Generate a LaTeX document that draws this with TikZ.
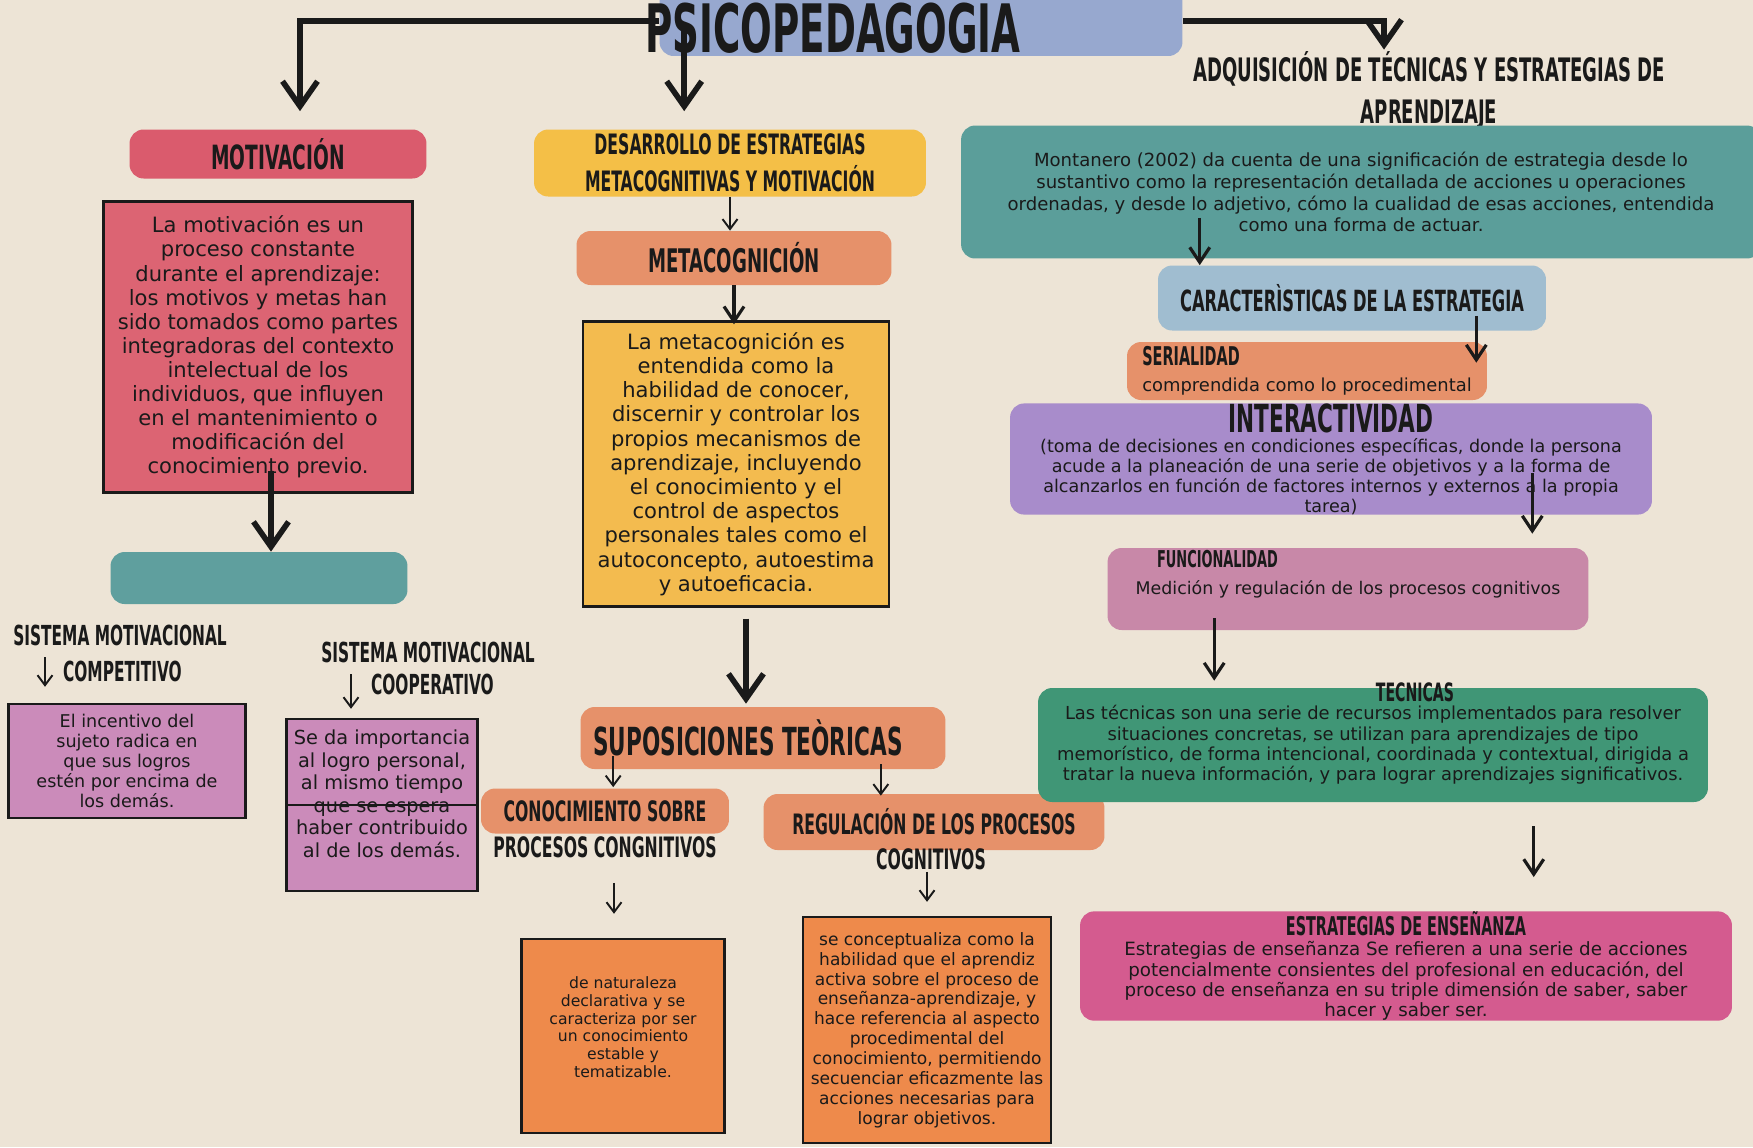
\documentclass[tikz,border=0pt]{standalone}
\usepackage{fontspec}
\setmainfont{DejaVu Sans}
\newfontfamily\headfont{DejaVu Sans Condensed Bold}[FakeStretch=0.62]
\usetikzlibrary{arrows.meta, calc}
\definecolor{paper}{HTML}{EDE4D6}
\definecolor{titleblue}{HTML}{97A8CF}
\definecolor{rosered}{HTML}{DA5B6D}
\definecolor{roseredbox}{HTML}{DC6473}
\definecolor{tealdk}{HTML}{5F9F9E}
\definecolor{mauve}{HTML}{CB8BBA}
\definecolor{mustard}{HTML}{F4BF47}
\definecolor{mustardbox}{HTML}{F3BB4F}
\definecolor{salmon}{HTML}{E6916A}
\definecolor{tangerine}{HTML}{EE8A4B}
\definecolor{seateal}{HTML}{5B9E9A}
\definecolor{skyblue}{HTML}{A0BDD0}
\definecolor{lilac}{HTML}{A88CCB}
\definecolor{orchid}{HTML}{C888A8}
\definecolor{jade}{HTML}{409676}
\definecolor{fuchsia}{HTML}{D45B8F}
\definecolor{ink}{HTML}{1A1A1A}

\begin{document}
\begin{tikzpicture}[x=0.02cm, y=-0.02cm, text=ink,
  bigarrow/.style={-{Straight Barb[length=5mm, width=7mm]}, line width=3.2pt, ink},
  midarrow/.style={-{Straight Barb[length=3mm, width=4mm]}, line width=1.8pt, ink},
  smallarrow/.style={-{Straight Barb[length=2mm, width=3mm]}, line width=1.1pt, ink},
  pill/.style={fill=#1, rounded corners=8pt, inner sep=0pt, align=center},
  card/.style={fill=#1, draw=ink, line width=1.4pt, inner sep=0pt, align=center},
  head/.style 2 args={font=\headfont\fontsize{#1}{#2}\selectfont, inner sep=1pt, align=center},
  body/.style 2 args={font=\fontsize{#1}{#2}\selectfont}]

% Background
\useasboundingbox (0,0) rectangle (1753,1147);
\fill[paper] (0,0) rectangle (1753,1147);

% Title
\node[pill=titleblue, minimum width=10.46cm, minimum height=1.4cm] (titlebox) at (921,21) {};
\node[head={38}{40}] (title) at (833,28) {PSICOPEDAGOGIA};

% =========== MOTIVACION ===========
\node[pill=rosered, minimum width=5.94cm, minimum height=0.98cm, head={19}{22}] (motiv) at (278,154) {MOTIVACIÓN};
\node[card=roseredbox, minimum width=6.18cm, minimum height=5.82cm, body={12}{13.7}] (motivbox) at (258,347)
  {La motivación es un\\ proceso constante\\ durante el aprendizaje:\\ los motivos y metas han\\
   sido tomados como partes\\ integradoras del contexto\\ intelectual de los\\ individuos, que influyen\\
   en el mantenimiento o\\ modificación del\\ conocimiento previo.};
\node[pill=tealdk, minimum width=5.94cm, minimum height=1.04cm] (teal) at (259,578) {};

\node[head={15.7}{18}] (smcomp) at (120,635) {SISTEMA MOTIVACIONAL};
\node[head={15.7}{18}, anchor=west] (compt) at (61,671) {COMPETITIVO};
\node[card=mauve, minimum width=4.74cm, minimum height=2.28cm, body={10}{11.4}] (compbox) at (127,761)
  {El incentivo del\\ sujeto radica en\\ que sus logros\\ estén por encima de\\ los demás.};

\node[head={15.7}{18}] (smcoop) at (428,652) {SISTEMA MOTIVACIONAL};
\node[head={15.7}{18}, anchor=west] (coopt) at (369,684) {COOPERATIVO};
\node[card=mauve, minimum width=3.82cm, minimum height=3.44cm, body={11}{12.8}] (coopbox) at (382,805)
  {Se da importancia\\ al logro personal,\\ al mismo tiempo\\ que se espera\\ haber contribuido\\ al de los demás.\\ \mbox{}};
\draw[ink, line width=1.2pt] (coopbox.west) -- (coopbox.east);

% =========== METACOGNICION ===========
\node[pill=mustard, minimum width=7.84cm, minimum height=1.34cm, head={16}{21}] (desarr) at (730,163)
  {DESARROLLO DE ESTRATEGIAS\\ METACOGNITIVAS Y MOTIVACIÓN};
\node[pill=salmon, minimum width=6.3cm, minimum height=1.08cm, head={18.5}{22}] (metacog) at (734,258) {METACOGNICIÓN};
\node[card=mustardbox, minimum width=6.12cm, minimum height=5.7cm, body={12}{13.8}] (metabox) at (736,464)
  {La metacognición es\\ entendida como la\\ habilidad de conocer,\\ discernir y controlar los\\
   propios mecanismos de\\ aprendizaje, incluyendo\\ el conocimiento y el\\ control de aspectos\\
   personales tales como el\\ autoconcepto, autoestima\\ y autoeficacia.};

\node[pill=salmon, minimum width=7.3cm, minimum height=1.24cm, head={22}{26}] (supos) at (763,738) {SUPOSICIONES TEÒRICAS\hspace*{0.6cm}};
\node[pill=salmon, minimum width=4.96cm, minimum height=0.9cm, head={16}{19}] (conoc) at (605,811) {CONOCIMIENTO SOBRE};
\node[head={16}{19}] (conoc2) at (605,847) {PROCESOS CONGNITIVOS};
\node[pill=salmon, minimum width=6.82cm, minimum height=1.12cm, head={16}{19}] (regul) at (934,822) {REGULACIÓN DE LOS PROCESOS};
\node[head={16}{19}] (regul2) at (931,859) {COGNITIVOS};

\node[card=tangerine, minimum width=4.06cm, minimum height=3.88cm, body={8.9}{10.2}] (naturbox) at (623,1036)
  {de naturaleza\\ declarativa y se\\ caracteriza por ser\\ un conocimiento\\ estable y\\ tematizable.\\ \mbox{}};
\node[card=tangerine, minimum width=4.96cm, minimum height=4.52cm, body={9.7}{11.3}] (regbox) at (927,1030)
  {se conceptualiza como la\\ habilidad que el aprendiz\\ activa sobre el proceso de\\ enseñanza-aprendizaje, y\\
   hace referencia al aspecto\\ procedimental del\\ conocimiento, permitiendo\\ secuenciar eficazmente las\\
   acciones necesarias para\\ lograr objetivos.};

% =========== ESTRATEGIAS ===========
\node[head={18.4}{24}] (adq) at (1429,91) {ADQUISICIÓN DE TÉCNICAS Y ESTRATEGIAS DE\\ APRENDIZAJE};
\node[pill=seateal, minimum width=16cm, minimum height=2.66cm, body={10.3}{12.4}] (montanero) at (1361,192)
  {Montanero (2002) da cuenta de una significación de estrategia desde lo\\
   sustantivo como la representación detallada de acciones u operaciones\\
   ordenadas, y desde lo adjetivo, cómo la cualidad de esas acciones, entendida\\
   como una forma de actuar.};
\node[pill=skyblue, minimum width=7.76cm, minimum height=1.3cm, head={16.6}{19}] (caract) at (1352,298) {CARACTERÌSTICAS DE LA ESTRATEGIA};
\node[pill=salmon, minimum width=7.2cm, minimum height=1.16cm, align=left, body={10.2}{14.8}] (serial) at (1307,371)
  {{\headfont\fontsize{14.7}{16}\selectfont SERIALIDAD}\\ comprendida como lo procedimental};
\node[pill=lilac, minimum width=12.84cm, minimum height=2.18cm, body={10}{11.4}] (interact) at (1331,459)
  {{\headfont\fontsize{22}{24}\selectfont INTERACTIVIDAD}\\
   (toma de decisiones en condiciones específicas, donde la persona\\
   acude a la planeación de una serie de objetivos y a la forma de\\
   alcanzarlos en función de factores internos y externos a la propia\\ tarea)};
\node[pill=orchid, minimum width=9.62cm, minimum height=1.64cm, body={9.9}{13}] (funcional) at (1348,589)
  {Medición y regulación de los procesos cognitivos};
\node[head={13.2}{16}, anchor=west] (funct) at (1155,559) {FUNCIONALIDAD};
\node[pill=jade, minimum width=13.4cm, minimum height=2.28cm, body={10.2}{11.6}] (tecnicas) at (1373,745)
  {Las técnicas son una serie de recursos implementados para resolver\\
   situaciones concretas, se utilizan para aprendizajes de tipo\\
   memorístico, de forma intencional, coordinada y contextual, dirigida a\\
   tratar la nueva información, y para lograr aprendizajes significativos.};
\node[head={14.4}{16}] (tect) at (1415,692) {TECNICAS};
\node[pill=fuchsia, minimum width=13.04cm, minimum height=2.16cm, body={10.4}{11.6}] (estrateg) at (1406,966)
  {{\headfont\fontsize{14.7}{16}\selectfont ESTRATEGIAS DE ENSEÑANZA}\\
   Estrategias de enseñanza Se refieren a una serie de acciones\\
   potencialmente consientes del profesional en educación, del\\
   proceso de enseñanza en su triple dimensión de saber, saber\\
   hacer y saber ser.};

% =========== ARROWS ===========
\draw[bigarrow] (titlebox.west) -| ($(motiv.north)+(22,-18)$);
\draw[bigarrow] ($(titlebox.south west)+(25,-30)$) -- ($(titlebox.south west |- desarr.north)+(25,-18)$);
\draw[bigarrow] (titlebox.east) -| ($(adq.north)+(-45,0)$);

\draw[bigarrow] ($(motivbox.south)+(13,-23)$) -- ($(motivbox.south |- teal.north)+(13,0)$);
\draw[smallarrow] ($(compt.west)+(-16,-14)$) -- ($(compt.west |- compbox.north)+(-16,-16)$);
\draw[smallarrow] ($(coopt.west)+(-18,-10)$) -- ($(coopt.west |- coopbox.north)+(-18,-9)$);

\draw[smallarrow] (desarr.south) -- (desarr.south |- metacog.north);
\draw[midarrow] (metacog.south) -- ($(metacog.south |- metabox.north)+(0,4)$);
\draw[bigarrow] ($(metabox.south)+(10,11)$) -- ($(metabox.south |- supos.north)+(10,-3)$);
\draw[smallarrow] ($(supos.south west)+(33,-13)$) -- ($(supos.south west |- conoc.north)+(33,-1)$);
\draw[smallarrow] ($(supos.south east)+(-65,-5)$) -- ($(supos.south east |- regul.north)+(-65,2)$);
\draw[smallarrow] ($(conoc2.south)+(9,23)$) -- ($(conoc2.south |- naturbox.north)+(9,-24)$);
\draw[smallarrow] ($(regul2.south)+(-4,0)$) -- ($(regul2.south |- regbox.north)+(-4,-14)$);

\draw[midarrow] ($(montanero.south west)+(239,-41)$) -- ($(montanero.south west |- caract.north)+(239,0)$);
\draw[midarrow] ($(caract.south east)+(-70,-15)$) -- ($(caract.south east |- serial.north)+(-70,21)$);
\draw[midarrow] ($(interact.south east)+(-120,-42)$) -- ($(interact.south east |- funcional.north)+(-120,-14)$);
\draw[midarrow] ($(funcional.south west)+(107,-12)$) -- ($(funcional.south west |- tecnicas.north)+(107,-7)$);
\draw[midarrow] ($(tecnicas.south west)+(496,24)$) -- ($(tecnicas.south west |- estrateg.north)+(496,-34)$);

\end{tikzpicture}
\end{document}
